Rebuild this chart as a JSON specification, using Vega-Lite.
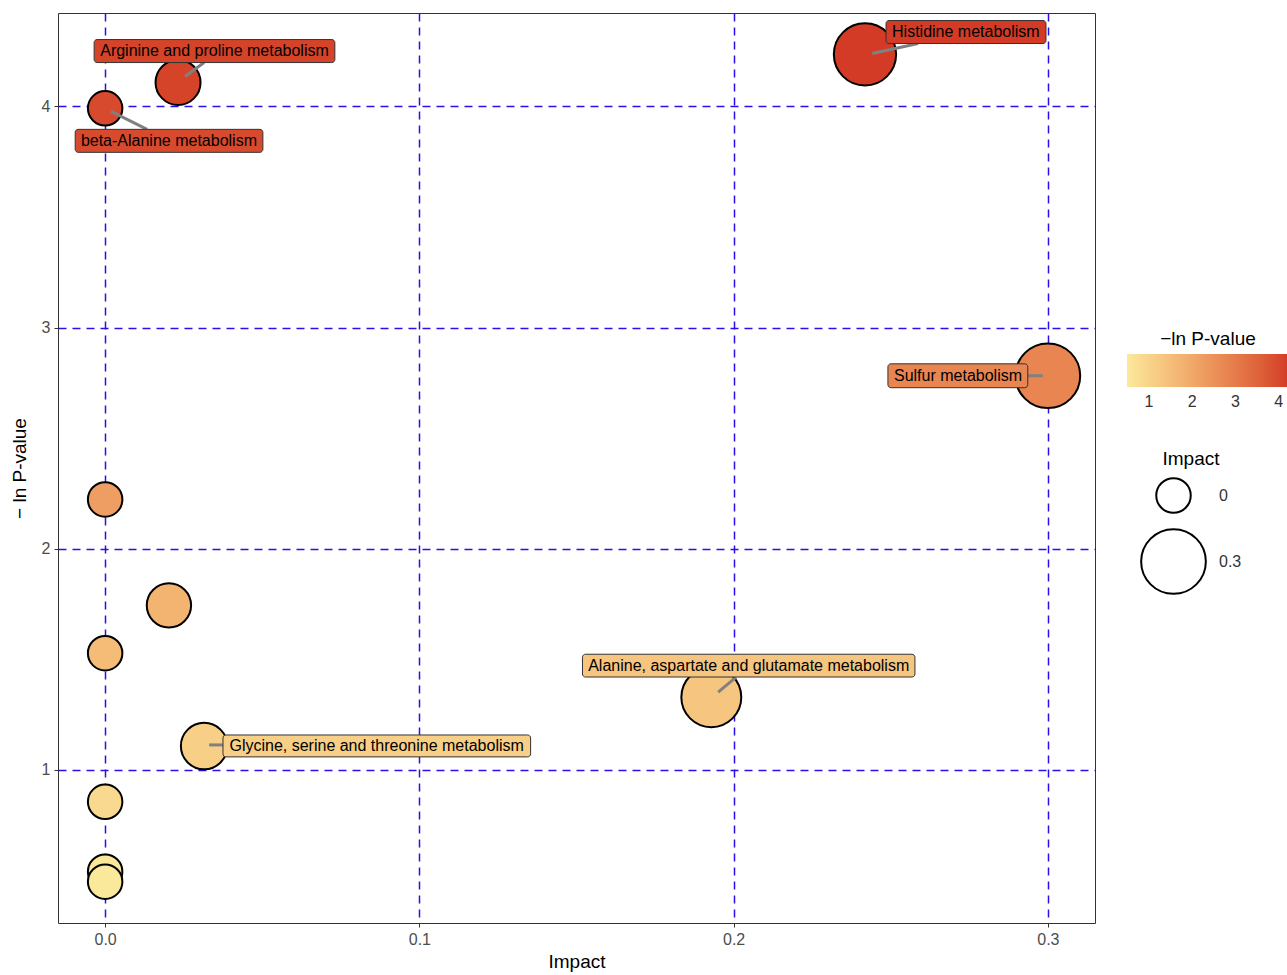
{
  "$schema": "https://vega.github.io/schema/vega-lite/v6.json",
  "width": 1037,
  "height": 910,
  "autosize": {"type": "none"},
  "padding": {"left": 58, "top": 13, "right": 192, "bottom": 52},
  "background": "white",
  "config": {
    "font": "Liberation Sans",
    "view": {"stroke": "#333333", "strokeWidth": 1},
    "axis": {
      "labelColor": "#4D4D4D",
      "labelFontSize": 16,
      "titleFontSize": 19,
      "titleFontWeight": "normal",
      "titleColor": "#000000",
      "tickColor": "#333333",
      "tickSize": 4,
      "domain": false,
      "grid": true,
      "gridColor": "#2A10E8",
      "gridDash": [8, 6],
      "gridWidth": 1.5
    },
    "legend": {"labelFontSize": 16, "titleFontSize": 19, "titleFontWeight": "normal", "labelColor": "#333333"}
  },
  "datasets": {
    "points": [
      {"name": "Histidine metabolism", "impact": 0.2418, "p": 4.235},
      {"name": "Arginine and proline metabolism", "impact": 0.0232, "p": 4.108},
      {"name": "beta-Alanine metabolism", "impact": 0.0, "p": 3.991},
      {"name": "Sulfur metabolism", "impact": 0.3, "p": 2.782},
      {"name": "p5", "impact": 0.0, "p": 2.223},
      {"name": "p6", "impact": 0.0203, "p": 1.744},
      {"name": "p7", "impact": 0.0, "p": 1.528},
      {"name": "Alanine, aspartate and glutamate metabolism", "impact": 0.1929, "p": 1.329},
      {"name": "Glycine, serine and threonine metabolism", "impact": 0.0315, "p": 1.108},
      {"name": "p10", "impact": 0.0, "p": 0.856},
      {"name": "p11", "impact": 0.0, "p": 0.54},
      {"name": "p12", "impact": 0.0, "p": 0.495}
    ],
    "labels": [
      {"name": "Histidine metabolism", "p": 4.235, "cx": 0.2739, "cy": 4.336, "bx1": 0.2485, "bx2": 0.2994, "by1": 4.388, "by2": 4.284, "sx1": 0.2441, "sy1": 4.239, "sx2": 0.2587, "sy2": 4.284},
      {"name": "Arginine and proline metabolism", "p": 4.108, "cx": 0.0348, "cy": 4.25, "bx1": -0.0035, "bx2": 0.0731, "by1": 4.302, "by2": 4.198, "sx1": 0.0254, "sy1": 4.135, "sx2": 0.0315, "sy2": 4.198},
      {"name": "beta-Alanine metabolism", "p": 3.991, "cx": 0.0203, "cy": 3.844, "bx1": -0.00953, "bx2": 0.0502, "by1": 3.896, "by2": 3.792, "sx1": 0.0019, "sy1": 3.977, "sx2": 0.01335, "sy2": 3.896},
      {"name": "Sulfur metabolism", "p": 2.782, "cx": 0.2714, "cy": 2.782, "bx1": 0.2491, "bx2": 0.2936, "by1": 2.836, "by2": 2.728, "sx1": 0.2984, "sy1": 2.782, "sx2": 0.2936, "sy2": 2.782},
      {"name": "Alanine, aspartate and glutamate metabolism", "p": 1.329, "cx": 0.2048, "cy": 1.472, "bx1": 0.1519, "bx2": 0.2577, "by1": 1.523, "by2": 1.42, "sx1": 0.1951, "sy1": 1.352, "sx2": 0.2008, "sy2": 1.42},
      {"name": "Glycine, serine and threonine metabolism", "p": 1.108, "cx": 0.0864, "cy": 1.108, "bx1": 0.0375, "bx2": 0.1354, "by1": 1.158, "by2": 1.059, "sx1": 0.0331, "sy1": 1.113, "sx2": 0.0375, "sy2": 1.113}
    ]
  },
  "resolve": {"scale": {"color": "shared"}},
  "layer": [
    {
      "data": {"name": "points"},
      "mark": {"type": "circle", "opacity": 1, "stroke": "#000000", "strokeWidth": 2},
      "encoding": {
        "x": {"field": "impact", "type": "quantitative", "scale": {"domain": [-0.015, 0.315], "nice": false, "zero": false},
              "axis": {"values": [0, 0.1, 0.2, 0.3], "format": ".1f", "title": "Impact", "titlePadding": 5, "labelPadding": 4, "labelFontSize": 16}},
        "y": {"field": "p", "type": "quantitative", "scale": {"domain": [0.308, 4.422], "nice": false, "zero": false},
              "axis": {"values": [1, 2, 3, 4], "format": "d", "title": "− ln P-value", "titlePadding": 12, "labelPadding": 4, "labelFontSize": 16}},
        "color": {"field": "p", "type": "quantitative",
                  "scale": {"domain": [0.495, 4.235], "range": ["#FBE99B", "#D33B26"], "interpolate": "lab"},
                  "legend": {"title": "−ln P-value", "orient": "none", "direction": "horizontal", "legendX": 1069, "legendY": 317,
                             "gradientLength": 162, "gradientThickness": 33, "titleAnchor": "middle", "values": [1, 2, 3, 4], "labelOverlap": false, "gradientStrokeWidth": 0,
                             "labelOffset": 7, "labelFontSize": 16}},
        "size": {"field": "impact", "type": "quantitative",
                 "scale": {"type": "sqrt", "domain": [0, 0.3], "range": [1190, 4186]},
                 "legend": {"title": "Impact", "orient": "none", "legendX": 1082, "legendY": 437, "values": [0, 0.3],
                            "labelExpr": "datum.value == 0 ? '0' : '0.3'",
                            "symbolFillColor": "#FFFFFF", "symbolStrokeColor": "#000000", "symbolStrokeWidth": 2, "symbolType": "circle",
                            "rowPadding": 8, "labelOffset": 12, "titleAnchor": "middle", "titlePadding": 8, "labelFontSize": 16}}
      }
    },
    {
      "data": {"name": "labels"},
      "mark": {"type": "rule", "color": "#808080", "strokeWidth": 3},
      "encoding": {
        "x": {"field": "sx1", "type": "quantitative"},
        "y": {"field": "sy1", "type": "quantitative"},
        "x2": {"field": "sx2"},
        "y2": {"field": "sy2"}
      }
    },
    {
      "data": {"name": "labels"},
      "mark": {"type": "rect", "stroke": "#333333", "strokeWidth": 1, "cornerRadius": 3, "opacity": 1},
      "encoding": {
        "x": {"field": "bx1", "type": "quantitative"},
        "x2": {"field": "bx2"},
        "y": {"field": "by1", "type": "quantitative"},
        "y2": {"field": "by2"},
        "color": {"field": "p", "type": "quantitative"}
      }
    },
    {
      "data": {"name": "labels"},
      "mark": {"type": "text", "fontSize": 16, "color": "#000000", "align": "center", "baseline": "middle"},
      "encoding": {
        "x": {"field": "cx", "type": "quantitative"},
        "y": {"field": "cy", "type": "quantitative"},
        "text": {"field": "name"}
      }
    }
  ]
}
